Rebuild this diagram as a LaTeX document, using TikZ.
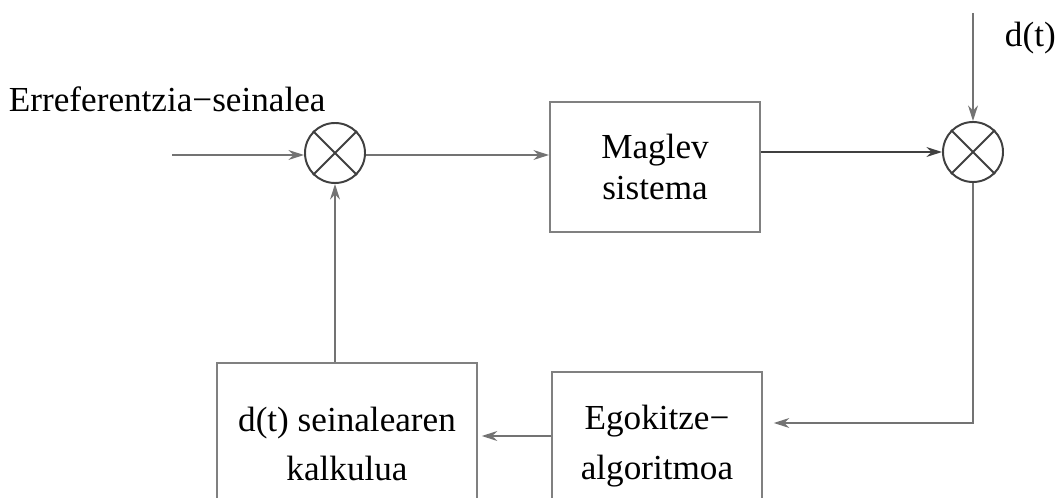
\documentclass[tikz,border=0pt]{standalone}
\usepackage{fontspec}
\setmainfont{Liberation Serif}
\usetikzlibrary{arrows.meta}

\begin{document}
\begin{tikzpicture}[x=0.025cm,y=-0.025cm,line width=1.4pt,
  font=\fontsize{25}{29}\selectfont,
  arr/.style={draw=black!55,-{Stealth[length=11pt,width=7pt]}},
  blk/.style={draw=black!50,rectangle,inner sep=0pt,align=center},
  sum/.style={draw=black!75,circle,minimum size=1.5cm,inner sep=0pt}]
\useasboundingbox (0,0) rectangle (1060,498);
\clip (0,0) rectangle (1060,498);
% summing points
\node[sum] (sum1) at (335,153) {};
\node[sum] (sum2) at (973,152) {};
\foreach \s in {sum1,sum2}
  \draw[black!75] (\s.45)--(\s.225) (\s.135)--(\s.315);
% blocks
\node[blk,minimum width=5.25cm,minimum height=3.25cm] (maglev) at (655,167) {Maglev\\sistema};
\node[blk,minimum width=5.225cm,minimum height=3.7cm] (egok) at (657,446) {Egokitze−\\[6pt]algoritmoa};
\node[blk,minimum width=6.475cm,minimum height=4.05cm] (kalk) at (347,444) {d(t) seinalearen\hspace{16pt}\\[6pt]kalkulua};
% labels
\node[anchor=base west,inner sep=0pt] (ref) at (8,112) {Erreferentzia−seinalea};
\node[anchor=base west,inner sep=0pt] (dt) at (1004,47) {d(t)};
\coordinate (in) at (172,155);
\coordinate (din) at (973,13);
% connections
\draw[arr] (in) -- (sum1.west |- in);
\draw[arr] (sum1.east |- in) -- (maglev.west |- in);
\draw[arr,draw=black!75] (maglev.east |- sum2) -- (sum2.west);
\draw[arr] (din) -- (sum2.north);
\draw[arr] (sum2.south) |- ([xshift=8]egok.east |- 0,423);
\draw[arr] (egok.west |- 0,436) -- ([xshift=3]kalk.east |- 0,436);
\draw[arr] (kalk.north -| sum1) -- (sum1.south);
\end{tikzpicture}
\end{document}
